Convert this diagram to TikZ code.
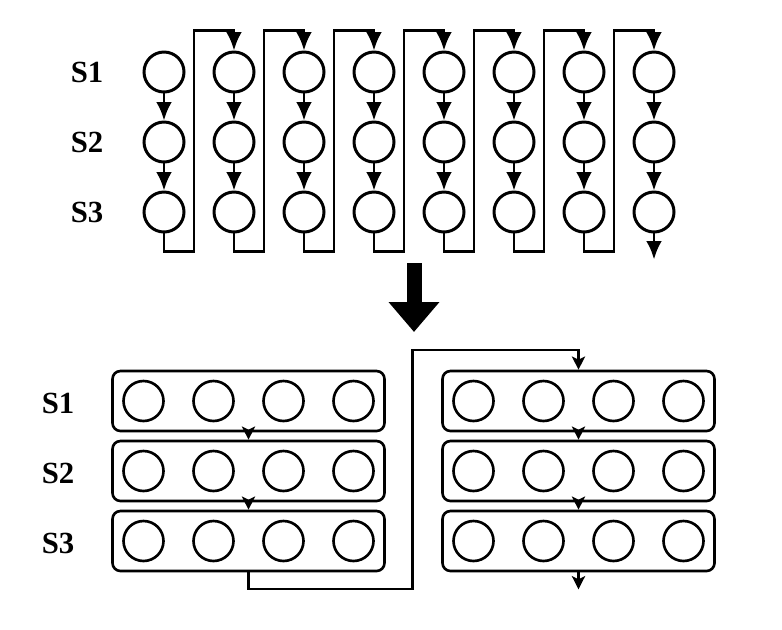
\documentclass[tikz,border=0pt]{standalone}
\usepackage{fontspec}
\setmainfont{Liberation Serif}
\usepackage{tikz}
\usetikzlibrary{
  % enables the arrow tips with sizes
  arrows.meta,%
  calc,%
  positioning
}
\tikzset{>={Latex[length=10.5pt,width=9pt]}}
\tikzset{cell/.style={circle, draw, line width=1.7pt, minimum size=0.8cm, inner sep=0pt}}
\tikzset{sbox/.style={draw, rounded corners=0.16cm, line width=1.5pt,
    minimum width=5.44cm, minimum height=1.2cm, inner sep=0pt}}
\tikzset{slabel/.style={font=\fontsize{17.5}{20}\selectfont\bfseries}}
\tikzset{flow/.style={->, line width=1.7pt}}
\tikzset{smallflow/.style={line width=1.5pt, -{Stealth[length=7.5pt,width=7.5pt,inset=1.8pt]}}}

\begin{document}
\begin{tikzpicture}
      \useasboundingbox (0,0) rectangle (15.64,-12.58);%
      % upper part: one column per step
      \foreach \i in {1,...,8} {
        \foreach \j/\y in {1/-1.44, 2/-2.84, 3/-4.24}
          \node[cell] (t\i\j) at ({3.28+1.4*(\i-1)}, \y) {};%
        \draw[flow] (t\i1) -- (t\i2);%
        \draw[flow] (t\i2) -- (t\i3);%
      }
      \foreach \i/\k in {1/2, 2/3, 3/4, 4/5, 5/6, 6/7, 7/8}
        \draw[flow] (t\i3.south) -- ++(0,-0.36) -- ++(0.6,0) |- ($(t\k1.north)+(0,0.4)$) -- (t\k1);%
      \coordinate (topend) at ($(t83.south)+(0,-0.52)$);%
      \draw[flow] (t83) -- (topend);%
      \node[slabel] (ts1) at (1.74,-1.44) {S1};%
      \node[slabel] (ts2) at (1.74,-2.84) {S2};%
      \node[slabel] (ts3) at (1.74,-4.24) {S3};%
      % big arrow between the two parts
      \coordinate (bigtop) at (8.28,-5.26);%
      \coordinate (bigtip) at (8.28,-6.64);%
      \draw[line width=0.3cm, -{Triangle[length=0.6cm,width=0.98cm]}] (bigtop) -- (bigtip);%
      % lower part: rows grouped in boxes
      \foreach \j/\y in {1/-8.02, 2/-9.42, 3/-10.82} {
        \node[sbox] (L\j) at (4.97,\y) {};%
        \node[sbox] (R\j) at (11.57,\y) {};%
        \foreach \c in {1,...,4} {
          \node[cell, line width=1.5pt] (l\j\c) at ($(L\j)+({-2.1+1.4*(\c-1)},0)$) {};%
          \node[cell, line width=1.5pt] (r\j\c) at ($(R\j)+({-2.1+1.4*(\c-1)},0)$) {};%
        }
      }
      \draw[smallflow] (L1.south) -- (L2.north);%
      \draw[smallflow] (L2.south) -- (L3.north);%
      \draw[smallflow] (R1.south) -- (R2.north);%
      \draw[smallflow] (R2.south) -- (R3.north);%
      \coordinate (jump) at (8.25,-7.0);%
      \draw[smallflow] (L3.south) -- ++(0,-0.33) -| (jump) -| (R1.north);%
      \coordinate (botend) at ($(R3.south)+(0,-0.34)$);%
      \draw[smallflow] (R3) -- (botend);%
      \node[slabel] (bs1) at (1.16,-8.06) {S1};%
      \node[slabel] (bs2) at (1.16,-9.46) {S2};%
      \node[slabel] (bs3) at (1.16,-10.86) {S3};%
    \end{tikzpicture}
\end{document}
